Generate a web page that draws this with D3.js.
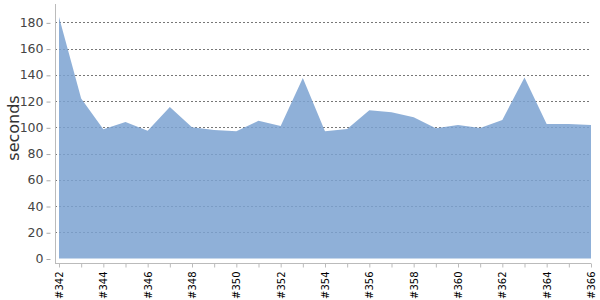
<!DOCTYPE html>
<html>
<head>
<meta charset="utf-8">
<script src="https://cdn.jsdelivr.net/npm/d3@7"></script>
<style>
  body { margin: 0; background: #fff; }
  text { font-family: "DejaVu Sans", sans-serif; }
</style>
</head>
<body>
<div id="chart"></div>
<script>
// build numbers and their durations (seconds)
var builds      =   [ 342, 343, 344, 345, 346, 347, 348, 349, 350, 351, 352, 353,
                      354, 355, 356, 357, 358, 359, 360, 361, 362, 363, 364, 365, 366 ];
var seconds     =   [ 184, 122, 98.5, 104, 97.4, 115.5, 100, 98, 97, 105, 101, 137.5,
                      97, 98.7, 113, 111.5, 107.6, 99.2, 101.7, 99.5, 105.6, 138, 102.5, 102.5, 101.7 ];
var y_ticks     =   [ 0, 20, 40, 60, 80, 100, 120, 140, 160, 180 ];
var y_max       =   194;

var chart_width     =   600;
var chart_height    =   300;
var plot_left       =   59;
var plot_right      =   591;
var plot_top        =   4;
var plot_bottom     =   258.5;
var axis_x          =   55;
var axis_y          =   263;

var svg = d3.select( '#chart' )
    .append( 'svg' )
    .attr( 'width', chart_width )
    .attr( 'height', chart_height );

var x_scale = d3.scalePoint()
    .domain( builds )
    .range( [ plot_left, plot_right ] );

var y_scale = d3.scaleLinear()
    .domain( [ 0, y_max ] )
    .range( [ plot_bottom, plot_top ] );

// dashed gridlines (drawn under the area)
svg.append( 'g' )
    .selectAll( 'line' )
    .data( y_ticks.slice( 1 ) )
    .enter()
    .append( 'line' )
    .attr( 'x1', axis_x )
    .attr( 'x2', plot_right )
    .attr( 'y1', function( d ){ return Math.round( y_scale( d ) ) + 0.5; })
    .attr( 'y2', function( d ){ return Math.round( y_scale( d ) ) + 0.5; })
    .attr( 'stroke', '#777' )
    .attr( 'stroke-dasharray', '2,2' );

// area
var area = d3.area()
    .x( function( d, i ){ return x_scale( builds[i] ); })
    .y0( y_scale( 0 ) )
    .y1( function( d ){ return y_scale( d ); });

svg.append( 'path' )
    .datum( seconds )
    .attr( 'd', area )
    .attr( 'fill', '#7ba2d1' )
    .attr( 'fill-opacity', 0.85 );

// y axis
var y_axis = d3.axisLeft( y_scale )
    .tickValues( y_ticks )
    .tickSize( 4 )
    .tickPadding( 3 );

var gy = svg.append( 'g' )
    .attr( 'transform', 'translate(' + ( axis_x - 4.5 ) + ',0)' )
    .call( y_axis );
gy.select( '.domain' ).remove();
gy.selectAll( 'line' ).attr( 'stroke', '#aaa' )
    .attr( 'transform', 'translate(0,0.5)' );
gy.selectAll( 'text' )
    .attr( 'font-size', 12.5 )
    .attr( 'fill', '#444' )
    .attr( 'font-family', '"DejaVu Sans", sans-serif' );

svg.append( 'line' )
    .attr( 'x1', axis_x + 0.5 ).attr( 'x2', axis_x + 0.5 )
    .attr( 'y1', plot_top ).attr( 'y2', axis_y )
    .attr( 'stroke', '#bbb' );

// x axis
var x_axis = d3.axisBottom( x_scale )
    .tickSize( 4 )
    .tickSizeOuter( 0 )
    .tickFormat( function( d ){ return ( d % 2 === 0 ) ? '#' + d : ''; });

var gx = svg.append( 'g' )
    .attr( 'transform', 'translate(0,' + ( axis_y + 0.5 ) + ')' )
    .call( x_axis );
gx.select( '.domain' ).remove();
gx.selectAll( 'line' ).attr( 'stroke', '#bbb' );
gx.selectAll( 'text' )
    .attr( 'font-size', 10 )
    .attr( 'fill', '#000' )
    .attr( 'font-family', '"DejaVu Sans", sans-serif' )
    .attr( 'text-anchor', 'end' )
    .attr( 'dy', '0.35em' )
    .attr( 'transform', 'rotate(-90)' )
    .attr( 'x', -8 )
    .attr( 'y', 0 );

svg.append( 'line' )
    .attr( 'x1', axis_x ).attr( 'x2', plot_right )
    .attr( 'y1', axis_y + 0.5 ).attr( 'y2', axis_y + 0.5 )
    .attr( 'stroke', '#bbb' );

// y label
svg.append( 'text' )
    .text( 'seconds' )
    .attr( 'transform', 'translate(19,128) rotate(-90)' )
    .attr( 'text-anchor', 'middle' )
    .attr( 'font-size', 16 )
    .attr( 'fill', '#333' );
</script>
</body>
</html>
